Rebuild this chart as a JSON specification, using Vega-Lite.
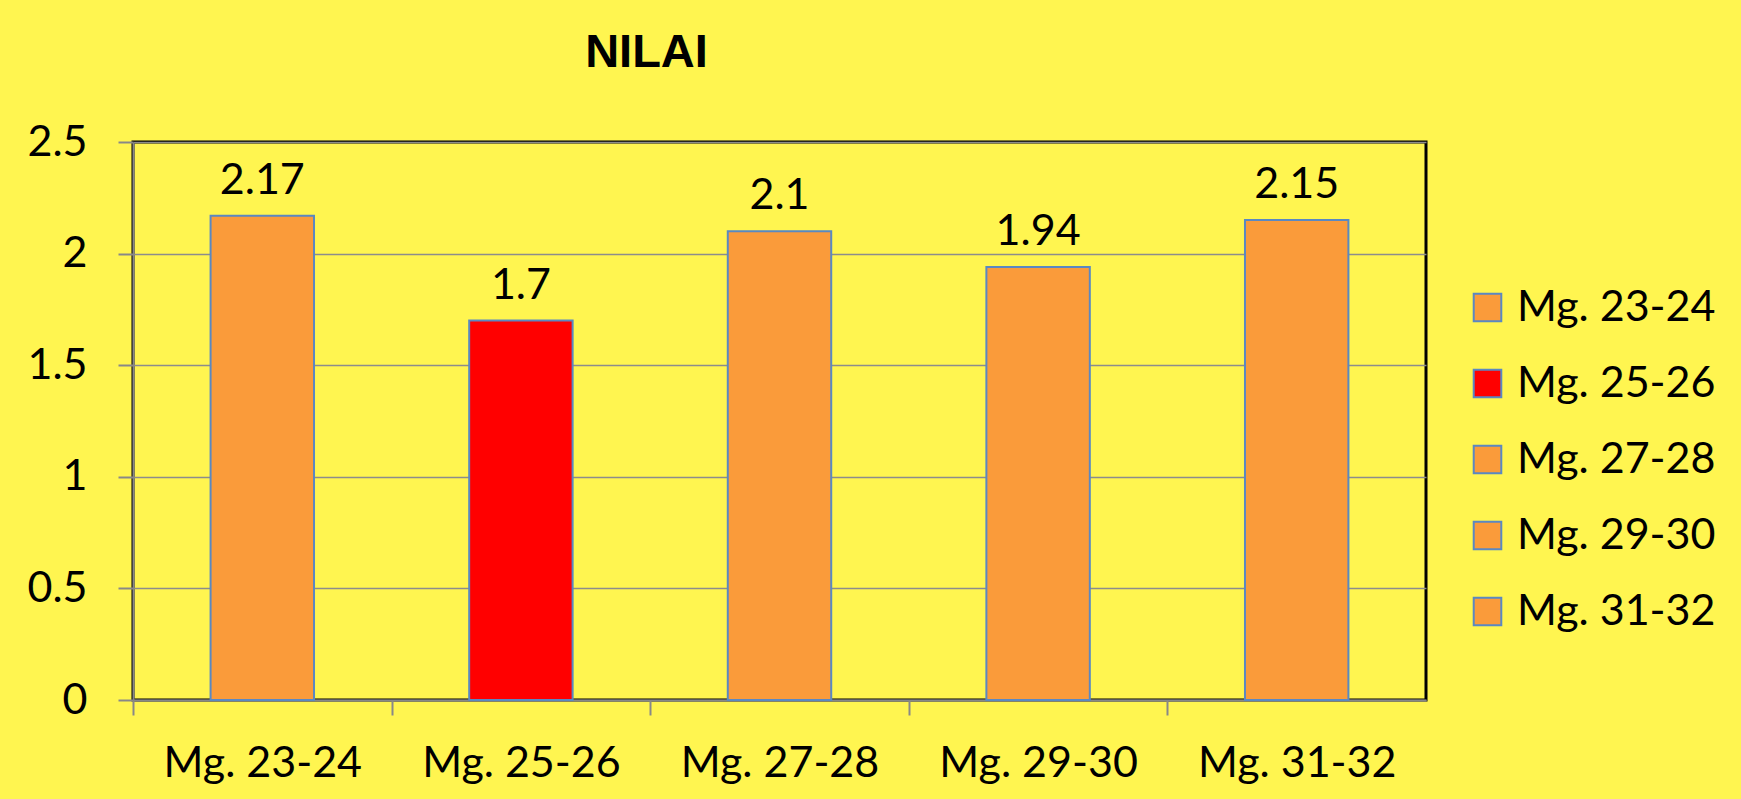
{
  "$schema": "https://vega.github.io/schema/vega-lite/v6.json",
  "width": 1293,
  "height": 558,
  "autosize": {"type": "none"},
  "padding": {"left": 133, "top": 142, "right": 315, "bottom": 99},
  "background": "#FFF550",
  "title": {
    "text": "NILAI",
    "font": "Liberation Sans",
    "fontSize": 47,
    "fontWeight": "bold",
    "color": "#000000",
    "anchor": "middle",
    "frame": "group",
    "dx": -133,
    "baseline": "alphabetic",
    "offset": 7
  },
  "config": {
    "view": {"stroke": "#000000", "strokeWidth": 3},
    "font": "Lato"
  },
  "data": {
    "values": [
      {"g": "Mg. 23-24", "v": 2.17},
      {"g": "Mg. 25-26", "v": 1.7},
      {"g": "Mg. 27-28", "v": 2.1},
      {"g": "Mg. 29-30", "v": 1.94},
      {"g": "Mg. 31-32", "v": 2.15}
    ]
  },
  "encoding": {
    "x": {
      "field": "g",
      "type": "nominal",
      "sort": null,
      "scale": {"paddingInner": 0.6, "paddingOuter": 0.3},
      "axis": {
        "title": null,
        "labelAngle": 0,
        "labelFont": "Lato",
        "labelFontSize": 43,
        "labelColor": "#000000",
        "labelPadding": 27,
        "labelLimit": 400,
        "labelOffset": 129.3,
        "tickOffset": -129.3,
        "tickSize": 15,
        "tickColor": "#888888",
        "tickWidth": 2,
        "domainColor": "#888888",
        "domainWidth": 2,
        "grid": false
      }
    },
    "y": {
      "field": "v",
      "type": "quantitative",
      "scale": {"domain": [0, 2.5], "nice": false},
      "axis": {
        "title": null,
        "values": [0, 0.5, 1, 1.5, 2, 2.5],
        "format": ".1~f",
        "labelFont": "Lato",
        "labelFontSize": 43,
        "labelColor": "#000000",
        "labelPadding": 31,
        "tickSize": 15,
        "tickColor": "#888888",
        "tickWidth": 2,
        "domainColor": "#888888",
        "domainWidth": 2,
        "grid": true,
        "gridColor": "#8C8C8C",
        "gridWidth": 1.5
      }
    }
  },
  "layer": [
    {
      "mark": {"type": "bar", "stroke": "#5A88C2", "strokeWidth": 2},
      "encoding": {
        "color": {
          "field": "g",
          "type": "nominal",
          "sort": null,
          "scale": {
            "domain": ["Mg. 23-24", "Mg. 25-26", "Mg. 27-28", "Mg. 29-30", "Mg. 31-32"],
            "range": ["#FA9B3A", "#FF0000", "#FA9B3A", "#FA9B3A", "#FA9B3A"]
          },
          "legend": {
            "title": null,
            "orient": "none",
            "legendX": 1333,
            "legendY": 144,
            "symbolType": "square",
            "symbolSize": 760,
            "symbolStrokeColor": "#5A88C2",
            "symbolStrokeWidth": 2,
            "labelFont": "Lato",
            "labelFontSize": 43,
            "labelColor": "#000000",
            "labelOffset": 8,
            "rowPadding": 32,
            "labelLimit": 400
          }
        }
      }
    },
    {
      "mark": {"type": "text", "baseline": "alphabetic", "dy": -22, "font": "Lato", "fontSize": 43, "color": "#000000"},
      "encoding": {"text": {"field": "v", "type": "quantitative"}}
    }
  ]
}
